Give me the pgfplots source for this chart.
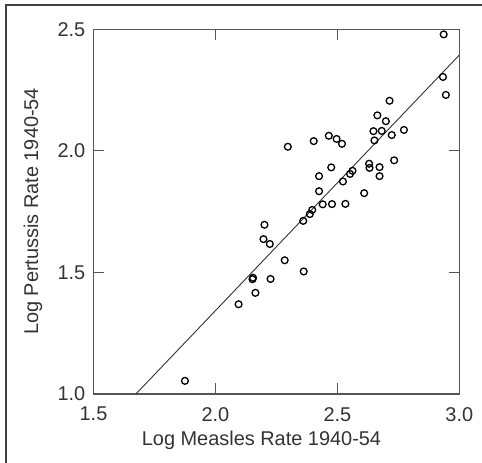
\documentclass[border=0pt]{standalone}
\usepackage{pgfplots}
\pgfplotsset{compat=1.18}
\usepackage{fontspec}
\setmainfont{Liberation Sans}
\definecolor{txt}{HTML}{333333}
\definecolor{axl}{HTML}{555555}
\begin{document}
\begin{tikzpicture}[x=1bp,y=1bp]
\begin{axis}[
    scale only axis,
    width=365.8bp, height=364.7bp,
    xmin=1.5, xmax=3.0, ymin=1.0, ymax=2.5,
    xtick={1.5,2.0,2.5,3.0},
    ytick={1.0,1.5,2.0,2.5},
    tick pos=both,
    tick align=inside,
    major tick length=10.5bp,
    every tick/.style={draw=axl, line width=1.1bp},
    axis line style={draw=axl, line width=1.1bp},
    /pgf/number format/.cd, fixed, fixed zerofill, precision=1, assume math mode=true,
    /pgfplots/.cd,
    tick label style={font=\fontsize{20}{24}\selectfont, text=txt, inner sep=0pt},
    xticklabel style={yshift=-13bp},
    yticklabel style={xshift=-8bp},
    label style={font=\fontsize{20}{24}\selectfont, text=txt},
    xlabel={Log Measles Rate 1940-54},
    ylabel={Log Pertussis Rate 1940-54},
    xlabel style={at={(axis description cs:0.4593,-0.1426)}, anchor=base, inner sep=0pt},
    ylabel style={at={(axis description cs:-0.1517,0.5004)}, anchor=base, inner sep=0pt},
]
% fitted line
\addplot[no marks, color=black!80, line width=0.9bp] coordinates {(1.674,1.0) (3.0,2.394)};

% states
\addplot[only marks, mark=o, mark size=3.4bp, mark options={line width=1.3bp, draw=black}] coordinates {
(2.936,2.479) (2.933,2.304) (2.945,2.230) (2.714,2.206) (2.664,2.146)
(2.699,2.122) (2.648,2.081) (2.682,2.082) (2.723,2.065) (2.773,2.086)
(2.652,2.043) (2.465,2.062) (2.497,2.049) (2.519,2.029) (2.403,2.040)
(2.297,2.017) (2.733,1.961) (2.630,1.947) (2.632,1.930) (2.673,1.933)
(2.673,1.896) (2.475,1.932) (2.425,1.896) (2.562,1.918) (2.552,1.905)
(2.523,1.874) (2.610,1.826) (2.425,1.834) (2.440,1.780) (2.478,1.781)
(2.533,1.782) (2.397,1.757) (2.387,1.740) (2.360,1.712) (2.201,1.696)
(2.197,1.637) (2.223,1.617) (2.284,1.550) (2.362,1.504) (2.152,1.472)
(2.154,1.478) (2.226,1.473) (2.164,1.416) (2.095,1.369) (1.875,1.054)
};

\coordinate (bl) at (rel axis cs:-0.2556,-0.1892);
\coordinate (tr) at (rel axis cs:1.0621,1.0803);
\coordinate (fl) at (rel axis cs:-0.2392,-0.1892);
\coordinate (ft) at (rel axis cs:-0.2392,1.0666);
\coordinate (fr) at (rel axis cs:1.0621,1.0666);
\end{axis}
\pgfresetboundingbox
\useasboundingbox (bl) rectangle (tr);
\draw[draw=black!75, line width=1.6bp] (fl) -- (ft) -- (fr);
\end{tikzpicture}
\end{document}
